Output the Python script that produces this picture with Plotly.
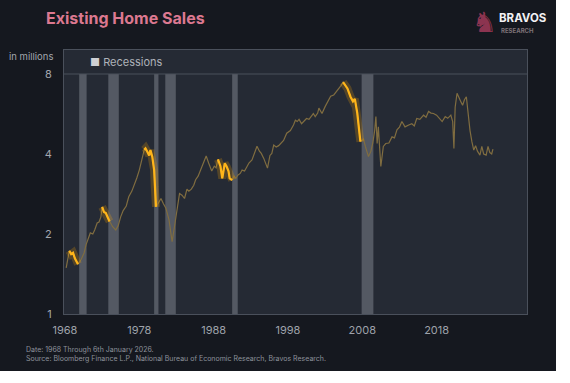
import plotly.graph_objects as go
import math

# ---------------- data ----------------
dates = [
    "1968-03", "1968-08", "1968-11", "1969-02", "1969-05", "1969-10",
    "1970-03", "1970-08", "1970-11", "1971-03", "1971-06", "1971-10",
    "1972-01", "1972-05", "1972-08", "1972-11", "1973-01", "1973-04",
    "1973-07", "1973-10", "1974-01", "1974-06", "1974-11", "1975-03",
    "1975-07", "1975-11", "1976-04", "1976-08", "1977-01", "1977-05",
    "1977-09", "1978-01", "1978-06", "1978-09", "1978-11", "1979-02",
    "1979-05", "1979-07", "1979-10", "1980-01", "1980-02", "1980-04",
    "1980-08", "1980-12", "1981-04", "1981-08", "1982-01", "1982-04",
    "1982-06", "1982-09", "1982-12", "1983-03", "1983-06", "1983-10",
    "1984-02", "1984-06", "1984-09", "1985-01", "1985-05", "1985-08",
    "1985-12", "1986-04", "1986-09", "1987-01", "1987-05", "1987-10",
    "1988-02", "1988-05", "1988-08", "1988-12", "1989-03", "1989-07",
    "1989-10", "1990-01", "1990-03", "1990-07", "1990-10", "1991-01",
    "1991-04", "1991-08", "1991-11", "1992-03", "1992-07", "1992-10",
    "1993-03", "1993-07", "1993-11", "1994-03", "1994-06", "1994-10",
    "1995-01", "1995-04", "1995-08", "1995-11", "1996-02", "1996-06",
    "1996-10", "1997-01", "1997-06", "1997-11", "1998-05", "1998-10",
    "1999-01", "1999-04", "1999-07", "1999-11", "2000-03", "2000-07",
    "2000-11", "2001-03", "2001-06", "2001-09", "2002-01", "2002-03",
    "2002-08", "2003-01", "2003-06", "2003-10", "2004-03", "2004-07",
    "2004-11", "2005-03", "2005-06", "2005-09", "2006-01", "2006-06",
    "2006-10", "2007-01", "2007-05", "2007-10", "2008-03", "2008-06",
    "2008-11", "2009-03", "2009-06", "2009-09", "2009-11", "2010-01",
    "2010-03", "2010-07", "2010-11", "2011-03", "2011-08", "2012-01",
    "2012-05", "2012-09", "2013-01", "2013-05", "2013-10", "2014-04",
    "2014-09", "2015-01", "2015-05", "2015-10", "2016-04", "2016-08",
    "2016-12", "2017-04", "2017-08", "2018-01", "2018-05", "2018-10",
    "2019-03", "2019-07", "2019-12", "2020-03", "2020-05", "2020-07",
    "2020-10", "2021-01", "2021-04", "2021-07", "2021-10", "2022-01",
    "2022-03", "2022-07", "2022-10", "2023-01", "2023-04", "2023-07",
    "2023-11", "2024-02", "2024-05", "2024-09", "2024-12", "2025-03",
    "2025-06", "2025-08",
]
sales = [
    1.49, 1.73, 1.68, 1.70, 1.62, 1.54,
    1.60, 1.70, 1.82, 1.92, 2.02, 2.00,
    2.07, 2.20, 2.22, 2.32, 2.53, 2.42,
    2.40, 2.30, 2.23, 2.13, 2.07, 2.15,
    2.32, 2.45, 2.55, 2.76, 2.90, 3.05,
    3.25, 3.48, 3.90, 4.15, 4.20, 4.08,
    3.95, 4.14, 3.91, 3.48, 3.01, 2.53,
    2.62, 2.72, 2.60, 2.50, 2.26, 1.95,
    1.87, 2.07, 2.32, 2.60, 2.84, 2.80,
    2.72, 2.95, 2.90, 2.95, 3.05, 3.20,
    3.30, 3.48, 3.75, 3.93, 3.70, 3.45,
    3.60, 3.55, 3.82, 3.60, 3.24, 3.69,
    3.59, 3.45, 3.24, 3.19, 3.30, 3.24,
    3.33, 3.38, 3.48, 3.45, 3.59, 3.70,
    3.80, 4.00, 4.28, 4.10, 4.02, 3.85,
    3.70, 3.54, 3.95, 4.02, 4.32, 4.25,
    4.30, 4.38, 4.50, 4.79, 4.90, 5.14,
    5.36, 5.30, 5.40, 5.20, 5.30, 5.44,
    5.40, 5.55, 5.68, 5.53, 5.70, 5.95,
    5.68, 6.03, 6.31, 6.60, 6.67, 6.85,
    7.06, 7.25, 7.45, 7.30, 7.06, 6.57,
    6.31, 6.45, 5.70, 4.45, 4.55, 4.27,
    3.91, 4.10, 4.40, 4.90, 5.53, 4.38,
    5.06, 3.59, 4.27, 4.38, 4.40, 4.64,
    4.60, 4.93, 5.05, 5.30, 5.06, 5.14,
    5.20, 5.10, 5.44, 5.40, 5.60, 5.50,
    5.78, 5.70, 5.68, 5.60, 5.45, 5.30,
    5.53, 5.45, 5.60, 5.30, 4.20, 6.00,
    6.77, 6.57, 6.31, 6.10, 6.40, 6.57,
    5.90, 4.90, 4.45, 4.14, 4.30, 4.10,
    3.96, 4.27, 4.00, 3.96, 4.27, 4.05,
    4.00, 4.17,
]
recession_start = ["1969-12-01", "1973-11-01", "1980-01-01", "1981-07-01", "1990-07-01", "2007-12-01"]
recession_end = ["1970-11-30", "1975-03-31", "1980-07-31", "1982-11-30", "1991-03-31", "2009-06-30"]
highlight_start = ["1968-08", "1973-01", "1978-09", "1988-08", "2005-06"]
highlight_end = ["1969-10", "1974-01", "1980-04", "1990-07", "2007-10"]
tick_years = [1968, 1978, 1988, 1998, 2008, 2018]
y_ticks = [1, 2, 4, 8]

# ---------------- geometry ----------------
W, H = 570, 383
L, R, T, B = 64, 527, 50, 314
Y_TOP = 74  # pixel where value 8 sits

def px(x):
    return (x - L) / (R - L)

def py(y):
    return (B - y) / (B - T)

FONT = "Inter"
PAGE_BG = "#15181f"
PLOT_BG = "#252a34"
FRAME = "#4a505b"

# highlighted segments derived from the series
hx, hy = [], []
for s, e in zip(highlight_start, highlight_end):
    for d, v in zip(dates, sales):
        if s <= d <= e:
            hx.append(d)
            hy.append(v)
    hx.append(None)
    hy.append(None)

fig = go.Figure()
fig.add_trace(go.Scatter(x=dates, y=sales, mode="lines",
                         line=dict(color="#806d40", width=1.2),
                         showlegend=False, hoverinfo="skip"))
fig.add_trace(go.Scatter(x=hx, y=hy, mode="lines",
                         line=dict(color="rgba(255,170,0,0.22)", width=8),
                         showlegend=False, hoverinfo="skip", connectgaps=False))
fig.add_trace(go.Scatter(x=hx, y=hy, mode="lines",
                         line=dict(color="#ffb51a", width=2.2),
                         showlegend=False, connectgaps=False))

shapes = []
for s, e in zip(recession_start, recession_end):
    shapes.append(dict(type="rect", xref="x", yref="paper", x0=s, x1=e,
                       y0=0, y1=py(Y_TOP), fillcolor="rgba(150,155,165,0.42)",
                       line=dict(width=0), layer="below"))
# separator under the legend strip
shapes.append(dict(type="line", xref="paper", yref="paper", x0=0, x1=1,
                   y0=py(Y_TOP), y1=py(Y_TOP), line=dict(color=FRAME, width=1)))
# white margins right and bottom
shapes.append(dict(type="rect", xref="paper", yref="paper",
                   x0=px(556), x1=px(W + 10), y0=py(H + 10), y1=py(-10),
                   fillcolor="white", line=dict(width=0), layer="above"))
shapes.append(dict(type="rect", xref="paper", yref="paper",
                   x0=px(-10), x1=px(W + 10), y0=py(H + 10), y1=py(371),
                   fillcolor="white", line=dict(width=0), layer="above"))

annotations = [
    dict(text="<b>Existing Home Sales</b>", x=px(44), y=py(18), xanchor="left",
         yanchor="middle", font=dict(family=FONT, size=16, color="#dc7890")),
    dict(text="in millions", x=px(55), y=py(57), xanchor="right", yanchor="middle",
         font=dict(family=FONT, size=9.5, color="#a3a7ae")),
    dict(text="<span style='color:#cfd0d4'>■</span> Recessions", x=px(88), y=py(61.5),
         xanchor="left", yanchor="middle",
         font=dict(family=FONT, size=11, color="#aeb2b9")),
    dict(text="♞", x=px(484), y=py(23), xanchor="center", yanchor="middle",
         font=dict(family="DejaVu Sans", size=28, color="#8c3450")),
    dict(text="<b>BRAVOS</b>", x=px(497), y=py(18), xanchor="left", yanchor="middle",
         font=dict(family=FONT, size=11.5, color="#f2f2f4")),
    dict(text="<b>RESEARCH</b>", x=px(499), y=py(30), xanchor="left", yanchor="middle",
         font=dict(family=FONT, size=6, color="#7e7378")),
    dict(text="Date: 1968 Through 6th January 2026.", x=px(24), y=py(350),
         xanchor="left", yanchor="middle",
         font=dict(family=FONT, size=7, color="#8d929b")),
    dict(text="Source: Bloomberg Finance L.P., National Bureau of Economic Research, Bravos Research.",
         x=px(24), y=py(358.5), xanchor="left", yanchor="middle",
         font=dict(family=FONT, size=7, color="#8d929b")),
]
for a in annotations:
    a.update(xref="paper", yref="paper", showarrow=False)

fig.update_layout(
    width=W, height=H,
    margin=dict(l=L, r=W - R, t=T, b=H - B, pad=0),
    paper_bgcolor=PAGE_BG, plot_bgcolor=PLOT_BG,
    shapes=shapes, annotations=annotations, showlegend=False,
    font=dict(family=FONT),
    xaxis=dict(type="date", range=["1967-11-15", "2030-03-01"],
               tickvals=[f"{y}-01-01" for y in tick_years],
               ticktext=[str(y) for y in tick_years],
               showgrid=False, zeroline=False, showline=True, mirror=True,
               linecolor=FRAME, linewidth=1, ticks="outside", ticklen=6,
               tickcolor="rgba(0,0,0,0)",
               tickfont=dict(family=FONT, size=11, color="#9ea2aa")),
    yaxis=dict(type="log", range=[0, math.log10(8) * (B - T) / (B - Y_TOP)],
               tickvals=y_ticks, ticktext=[str(v) for v in y_ticks],
               showgrid=False, zeroline=False, showline=True, mirror=True,
               linecolor=FRAME, linewidth=1, ticks="outside", ticklen=9,
               tickcolor="rgba(0,0,0,0)",
               tickfont=dict(family=FONT, size=11, color="#a3a7ae")),
)

fig.write_html("out.html", config={"displayModeBar": False},
               post_script="document.body.style.margin='0';document.body.style.overflow='hidden';")
